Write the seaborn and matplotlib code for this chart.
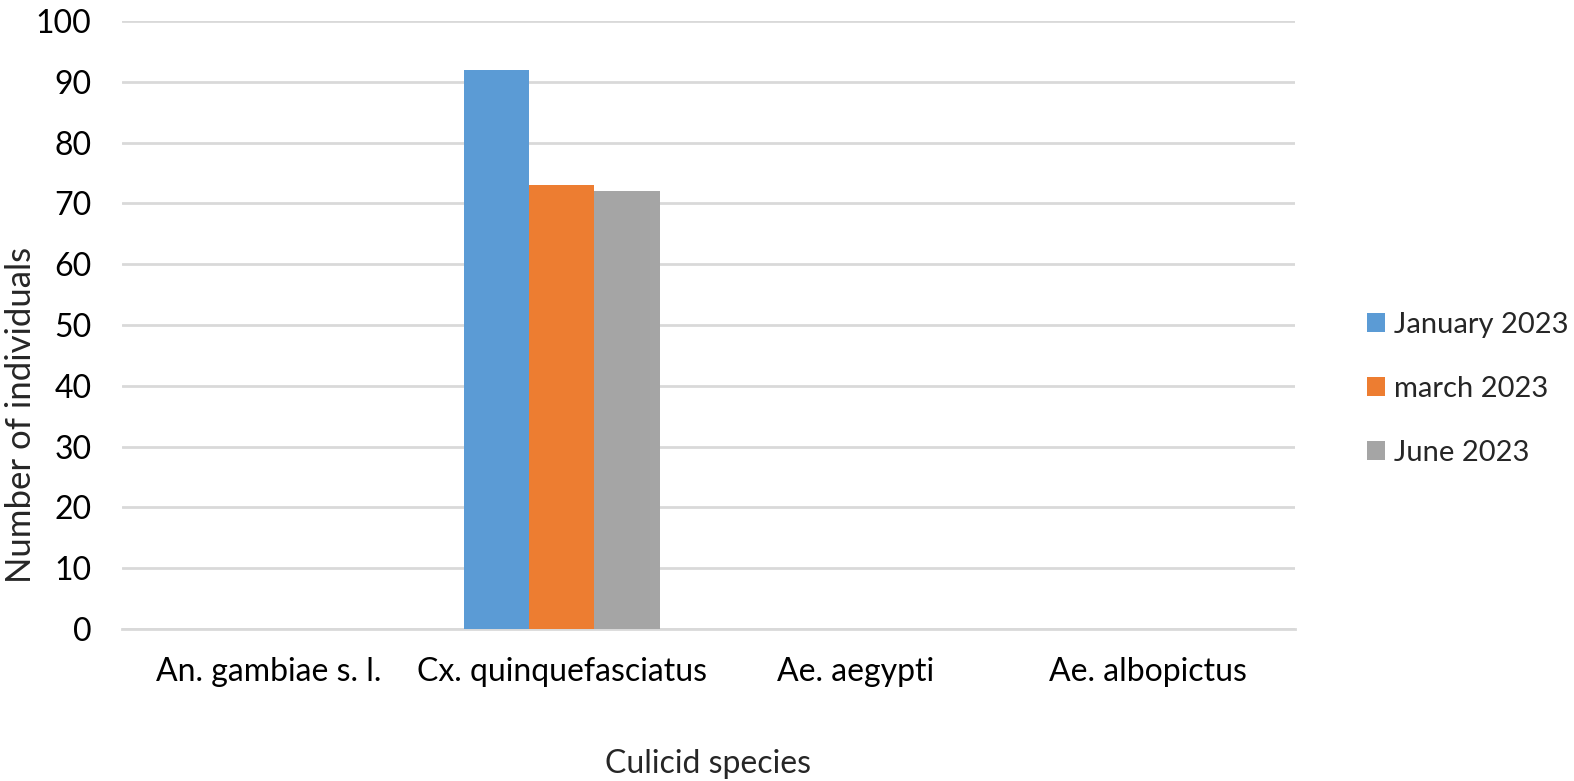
import numpy as np
import pandas as pd
import matplotlib
matplotlib.use("Agg")
import matplotlib.pyplot as plt
import seaborn as sns

species = ["An. gambiae s. l.", "Cx. quinquefasciatus", "Ae. aegypti", "Ae. albopictus"]
periods = ["January 2023", "march 2023", "June 2023"]
january = [0, 92, 0, 0]
march = [0, 73, 0, 0]
june = [0, 72, 0, 0]
colors = ["#5B9BD5", "#ED7D31", "#A5A5A5"]

df = pd.DataFrame({
    "species": species * 3,
    "period": [p for p in periods for _ in species],
    "count": january + march + june,
})

sns.set_style("white")
plt.rcParams["font.family"] = ["Lato", "DejaVu Sans"]

fig = plt.figure(figsize=(15.74, 7.81), dpi=100)
ax = fig.add_axes([0.0775, 0.1946, 0.7452, 0.7784])

sns.barplot(data=df, x="species", y="count", hue="period", order=species,
            hue_order=periods, palette=colors, width=0.667, gap=0,
            saturation=1, linewidth=0, ax=ax, zorder=3)

ax.set_ylim(0, 100)
ax.set_xlim(-0.5, 3.5)
ax.set_yticks(np.arange(0, 101, 10))
ax.yaxis.grid(True, color="#d9d9d9", linewidth=2, zorder=0)
ax.set_axisbelow(True)
for s in ["top", "right", "left"]:
    ax.spines[s].set_visible(False)
ax.spines["bottom"].set_color("#d9d9d9")
ax.spines["bottom"].set_linewidth(2)
ax.tick_params(axis="both", length=0, labelsize=23, colors="black")
ax.tick_params(axis="y", pad=22)
ax.tick_params(axis="x", pad=20)

ax.set_xlabel("Culicid species", fontsize=23, labelpad=45)
ax.set_ylabel("Number of individuals", fontsize=25, va="center")
ax.yaxis.set_label_coords(-0.086, 0.352)

leg = ax.legend(loc="center left", bbox_to_anchor=(1.039, 0.395), frameon=False,
                fontsize=21, handlelength=0.62, handleheight=0.62,
                handletextpad=0.3, labelspacing=1.3)

fig.savefig("out.png", dpi=100)
